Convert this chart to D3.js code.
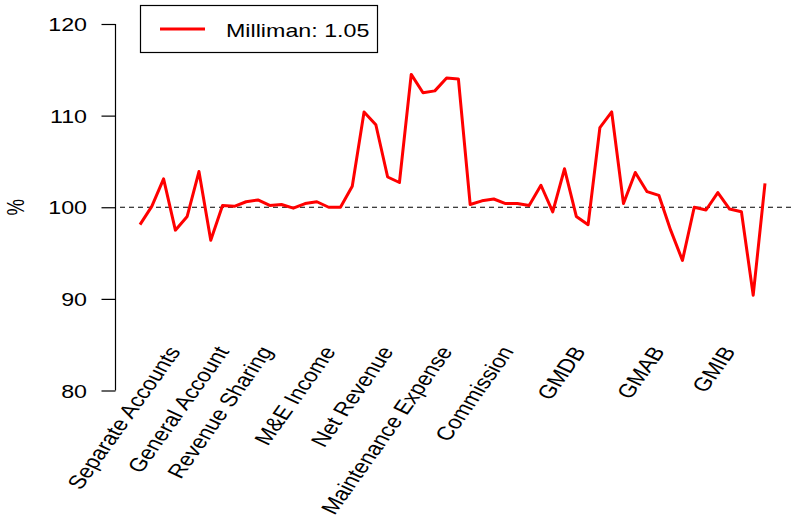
<!DOCTYPE html>
<html>
<head>
<meta charset="utf-8">
<script src="https://cdn.jsdelivr.net/npm/d3@7"></script>
<style>
  html, body { margin: 0; padding: 0; background: #fff; }
  svg { display: block; }
  text { font-family: "Liberation Sans", Arial, Helvetica, sans-serif; }
</style>
</head>
<body>
<div id="chart"></div>
<script>
// Ratio of model results to the Milliman benchmark, in percent
const values = [
  98.1, 100.1, 103.1, 97.5, 99.0, 103.9, 96.4, 100.2, 100.1, 100.6,
  100.8, 100.2, 100.3, 99.9, 100.4, 100.6, 100.0, 100.0, 102.3, 110.4,
  109.0, 103.3, 102.7, 114.5, 112.5, 112.7, 114.1, 114.0, 100.3, 100.7,
  100.9, 100.4, 100.4, 100.2, 102.4, 99.5, 104.2, 99.0, 98.1, 108.7,
  110.4, 100.4, 103.8, 101.7, 101.3, 97.5, 94.2, 100.0, 99.7, 101.6,
  99.8, 99.5, 90.4, 102.6
];

// Category names and the index position where each is labelled
const categories = [
  "Separate Accounts", "General Account", "Revenue Sharing", "M&E Income",
  "Net Revenue", "Maintenance Expense", "Commission", "GMDB", "GMAB", "GMIB"
];
const categoryAt = [3.9, 8.0, 11.7, 17.05, 21.95, 26.95, 32.15, 38.25, 44.95, 50.95];

const yTicks = [80, 90, 100, 110, 120];
const legendLabel = "Milliman: 1.05";
const refLevel = 100;

const W = 792, H = 519;
const FS = 18.6;          // font size
const SX = 1.25;          // horizontal text stretch

const svg = d3.select("#chart").append("svg")
  .attr("width", W).attr("height", H);

const x = d3.scaleLinear().domain([1, values.length]).range([140, 765]);
const y = d3.scaleLinear().domain([80, 120]).range([390.5, 24]);
const axisX = 115.5;

// Reference line at 100%
svg.append("line")
  .attr("x1", 120).attr("x2", W)
  .attr("y1", y(refLevel)).attr("y2", y(refLevel))
  .attr("stroke", "#000").attr("stroke-width", 1.2)
  .attr("stroke-dasharray", "5,4");

// Y axis
const yAxis = d3.axisLeft(y).tickValues(yTicks).tickSize(14).tickPadding(0).tickFormat(d3.format("d"));
const gY = svg.append("g").attr("transform", `translate(${axisX},0)`).call(yAxis);
gY.select(".domain").attr("d", `M0,${y(80)}V${y(120)}`).attr("stroke", "#000").attr("stroke-width", 1.2);
gY.selectAll(".tick line").attr("stroke", "#000").attr("stroke-width", 1.2);
gY.selectAll(".tick text").each(function(d) {
  const t = d3.select(this);
  t.attr("x", null).attr("dy", null)
    .attr("text-anchor", "end")
    .attr("dominant-baseline", "central")
    .attr("font-size", FS)
    .attr("fill", "#000")
    .attr("transform", `translate(-28.5,0) scale(${SX},1)`);
});

// Y axis title
svg.append("text")
  .attr("transform", `translate(16,${y(refLevel)}) scale(${SX},1) rotate(-90)`)
  .attr("text-anchor", "middle")
  .attr("dominant-baseline", "central")
  .attr("font-size", FS)
  .text("%");

// Category labels along the bottom
svg.append("g").selectAll("text")
  .data(categories)
  .join("text")
  .attr("transform", (d, i) => `translate(${x(categoryAt[i])},348) scale(${SX},1) rotate(-60)`)
  .attr("text-anchor", "end")
  .attr("dominant-baseline", "central")
  .attr("font-size", 19.2)
  .text(d => d);

// Data line
const line = d3.line().x((d, i) => x(i + 1)).y(d => y(d));
svg.append("path")
  .datum(values)
  .attr("d", line)
  .attr("fill", "none")
  .attr("stroke", "#ff0000")
  .attr("stroke-width", 3)
  .attr("stroke-linejoin", "round");

// Legend
const lg = svg.append("g");
lg.append("rect")
  .attr("x", 140.5).attr("y", 5.5).attr("width", 237).attr("height", 47)
  .attr("fill", "#fff").attr("stroke", "#000").attr("stroke-width", 1.2);
lg.append("line")
  .attr("x1", 160).attr("x2", 205).attr("y1", 29).attr("y2", 29)
  .attr("stroke", "#ff0000").attr("stroke-width", 3);
lg.append("text")
  .attr("transform", `translate(226,36.7) scale(${SX},1)`)
  .attr("font-size", FS)
  .text(legendLabel);
</script>
</body>
</html>
